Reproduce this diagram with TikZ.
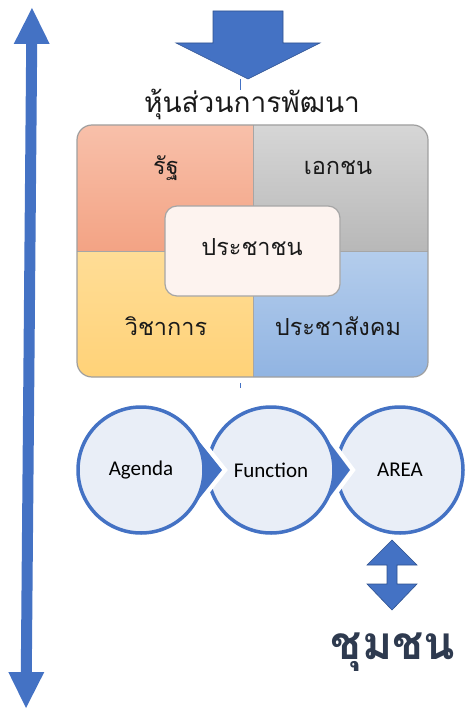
\documentclass[tikz,border=0pt]{standalone}
\usepackage{fontspec}
\newfontfamily\thai[Script=Thai]{Loma}
\newfontfamily\lat{Carlito}
\definecolor{ablue}{HTML}{4472C4}
\definecolor{ablueD}{HTML}{2F528F}
\definecolor{cfill}{HTML}{E9EEF7}
\definecolor{txt}{HTML}{1A1A1A}
\definecolor{comm}{HTML}{2E3A4F}
\begin{document}
\begin{tikzpicture}[x=1pt,y=-1pt,
  qlabel/.style={font=\thai\fontsize{23.5}{28}\selectfont, text=txt, inner sep=0pt},
  blockarrow/.style={fill=ablue, draw=ablueD, line width=0.6pt},
  proc/.style={circle, minimum size=126pt, inner sep=0pt, fill=cfill, draw=ablue, line width=3.5pt, font=\lat\fontsize{21}{25}\selectfont, text=black},
  halo/.style={draw=white, line width=9pt, line join=miter}
]
\useasboundingbox (0,0) rectangle (474,714);

% left long double arrow
\fill[ablue] (32,8) -- (49.7,44) -- (37.2,44) -- (31.8,672) -- (44.3,672) -- (26,708)
  -- (8.3,672) -- (20.8,672) -- (26.2,44) -- (13.7,44) -- cycle;

% top block arrow
\draw[blockarrow] (213,11) -- (283,11) -- (283,43) -- (320,43) -- (248,79) -- (176,43) -- (213,43) -- cycle;
\coordinate (tk1) at (240,79);
\coordinate (tk2) at (240,90);
\draw[ablue, line width=0.8pt] (tk1) -- (tk2);

% title
\node[font=\thai\fontsize{28}{32}\selectfont, text=txt] (title) at (252,104) {หุ้นส่วนการพัฒนา};

% quadrant box
\begin{scope}
  \clip[rounded corners=15pt] (77,125) rectangle (428,377);
  \shade[top color={rgb,255:red,248;green,192;blue,170}, bottom color={rgb,255:red,243;green,163;blue,132}] (77,125) rectangle (253,251);
  \shade[top color={rgb,255:red,214;green,214;blue,214}, bottom color={rgb,255:red,184;green,184;blue,184}] (253,125) rectangle (428,251);
  \shade[top color={rgb,255:red,255;green,221;blue,150}, bottom color={rgb,255:red,255;green,210;blue,120}] (77,251) rectangle (253,377);
  \shade[top color={rgb,255:red,180;green,205;blue,236}, bottom color={rgb,255:red,145;green,180;blue,226}] (253,251) rectangle (428,377);
\end{scope}
\draw[gray!70, line width=0.6pt] (253,125) -- (253,377) (77,251) -- (428,251);
\draw[gray!75, line width=1.2pt, rounded corners=15pt] (77,125) rectangle (428,377);
\draw[fill={rgb,255:red,253;green,243;blue,239}, draw=gray!70, line width=1.2pt, rounded corners=12pt] (165,206) rectangle (340,296);

\node[qlabel] (rat) at (166,168) {รัฐ};
\node[qlabel] (ekachon) at (338,168) {เอกชน};
\node[qlabel] (prachachon) at (252,247) {ประชาชน};
\node[qlabel] (wichakan) at (166,326) {วิชาการ};
\node[qlabel] (prachasangkhom) at (338,326) {ประชาสังคม};

\coordinate (tk3) at (240,383);
\coordinate (tk4) at (240,388);
\draw[ablue, line width=0.8pt] (tk3) -- (tk4);

% process circles (drawn back to front)
\draw[halo] (400,470) circle (63pt);
\node[proc] (area) at (400,470) {AREA};

\draw[halo] (271,470) circle (63pt);
\draw[halo] (271,470) -- (320,430) -- (350,470) -- (320,510) -- cycle;
\fill[ablue] (271,470) -- (320,430) -- (350,470) -- (320,510) -- cycle;
\node[proc] (function) at (271,470) {Function};

\draw[halo] (141,470) circle (63pt);
\draw[halo] (141,470) -- (190,430) -- (222,470) -- (190,510) -- cycle;
\fill[ablue] (141,470) -- (190,430) -- (222,470) -- (190,510) -- cycle;
\node[proc] (agenda) at (141,470) {Agenda};

% right double arrow
\draw[blockarrow] (392,540) -- (417,565) -- (397,565) -- (397,584) -- (417,584) -- (392,610)
  -- (367,584) -- (387,584) -- (387,565) -- (367,565) -- cycle;

% community
\node[font=\thai\bfseries\fontsize{46}{50}\selectfont, text=comm] (chumchon) at (393,652) {ชุมชน};
\end{tikzpicture}
\end{document}
